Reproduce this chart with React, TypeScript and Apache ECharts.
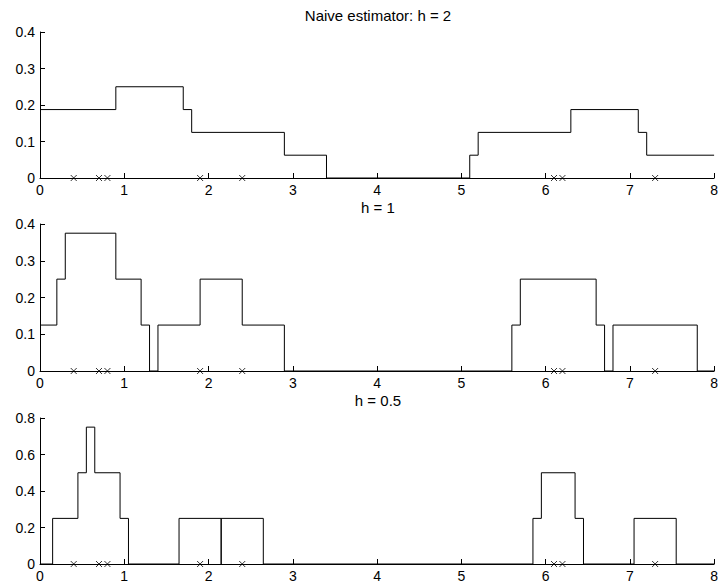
import React, { useEffect, useRef } from "react";
import * as echarts from "echarts";

const sample = [0.4, 0.7, 0.8, 1.9, 2.4, 6.1, 6.2, 7.3];

const h2Edges = [0, 0.9, 1.7, 1.8, 2.9, 3.4, 5.1, 5.2, 6.3, 7.1, 7.2, 8];
const h2Values = [0.1875, 0.25, 0.1875, 0.125, 0.0625, 0, 0.0625, 0.125, 0.1875, 0.125, 0.0625, 0.0625];

const h1Edges = [0, 0.2, 0.3, 0.9, 1.2, 1.3, 1.4, 1.9, 2.4, 2.9, 5.6, 5.7, 6.6, 6.7, 6.8, 7.8, 8];
const h1Values = [0.125, 0.25, 0.375, 0.25, 0.125, 0, 0.125, 0.25, 0.125, 0, 0.125, 0.25, 0.125, 0, 0.125, 0, 0];

const h05Edges = [0, 0.15, 0.45, 0.55, 0.65, 0.95, 1.05, 1.65, 2.15, 2.15, 2.65, 5.85, 5.95, 6.35, 6.45, 7.05, 7.55, 8];
const h05Values = [0, 0.25, 0.5, 0.75, 0.5, 0.25, 0, 0.25, 0, 0.25, 0, 0.25, 0.5, 0.25, 0, 0.25, 0, 0];

const titles = ["Naive estimator: h = 2", "h = 1", "h = 0.5"];
const yMaxes = [0.4, 0.4, 0.8];
const yIntervals = [0.1, 0.1, 0.2];

const FONT = "'Liberation Sans', Arial, Helvetica, sans-serif";

export default function App() {
  const ref = useRef<HTMLDivElement>(null);
  useEffect(() => {
    if (!ref.current) return;
    const chart = echarts.init(ref.current, undefined, { renderer: "svg" });
    const gridTops = [32, 224, 418];
    const gridHeights = [146, 147, 146];
    const titleTops = [8, 200, 393];
    const steps = [
      [h2Edges, h2Values],
      [h1Edges, h1Values],
      [h05Edges, h05Values],
    ];
    const grids = gridTops.map((t, i) => ({
      left: 40,
      right: 4,
      top: t,
      height: gridHeights[i],
    }));
    const xAxes = grids.map((_, i) => ({
      type: "value",
      gridIndex: i,
      min: 0,
      max: 8,
      interval: 1,
      splitLine: { show: false },
      axisLine: { show: true, onZero: false, lineStyle: { color: "#000", width: 1 } },
      axisTick: { show: true, inside: true, length: 5, lineStyle: { color: "#000" } },
      axisLabel: { color: "#000", fontSize: 14, fontFamily: FONT, margin: 5 },
    }));
    const yAxes = grids.map((_, i) => ({
      type: "value",
      gridIndex: i,
      min: 0,
      max: yMaxes[i],
      interval: yIntervals[i],
      splitLine: { show: false },
      axisLine: { show: true, lineStyle: { color: "#000", width: 1 } },
      axisTick: { show: true, inside: true, length: 5, lineStyle: { color: "#000" } },
      axisLabel: { color: "#000", fontSize: 14, fontFamily: FONT, margin: 5 },
    }));
    const series: any[] = [];
    steps.forEach(([edges, vals], i) => {
      series.push({
        type: "line",
        xAxisIndex: i,
        yAxisIndex: i,
        step: "end",
        showSymbol: false,
        symbol: "none",
        lineStyle: { color: "#000", width: 1 },
        data: edges.map((x, k) => [x, vals[k]]),
        z: 3,
      });
      series.push({
        type: "scatter",
        xAxisIndex: i,
        yAxisIndex: i,
        symbol: "path://M0,0L10,10M10,0L0,10",
        symbolSize: 6,
        itemStyle: { color: "none", borderColor: "#000", borderWidth: 1 },
        data: sample.map((x) => [x, 0]),
        z: 4,
      });
    });
    chart.setOption({
      animation: false,
      backgroundColor: "#fff",
      title: titles.map((t, i) => ({
        text: t,
        left: 378,
        textAlign: "center",
        top: titleTops[i],
        padding: 0,
        textStyle: { color: "#000", fontSize: 15, fontWeight: "normal", fontFamily: FONT },
      })),
      grid: grids,
      xAxis: xAxes,
      yAxis: yAxes,
      series,
    });
    return () => chart.dispose();
  }, []);
  return (
    <div
      ref={ref}
      style={{ position: "fixed", left: 0, top: 0, width: 721, height: 585, background: "#fff" }}
    />
  );
}
